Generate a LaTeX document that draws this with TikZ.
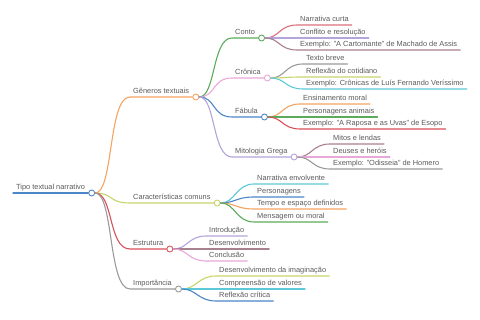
\documentclass[tikz,border=0pt]{standalone}
\usepackage{fontspec}
\setmainfont{Liberation Sans}
\usetikzlibrary{positioning}
\definecolor{mmtext}{HTML}{5A5A5A}
\definecolor{mmblue}{HTML}{4A86C8}
\definecolor{mmorange}{HTML}{F4A460}
\definecolor{mmlime}{HTML}{C8D46A}
\definecolor{mmred}{HTML}{D9505A}
\definecolor{mmgray}{HTML}{9A9A9A}
\definecolor{mmgreen}{HTML}{5AAC5A}
\definecolor{mmpink}{HTML}{E8A8D8}
\definecolor{mmpurple}{HTML}{B4A4DC}
\definecolor{mmmauve}{HTML}{A88090}
\definecolor{mmcyan}{HTML}{5CC8D8}
\definecolor{mmrose}{HTML}{D9707A}

\begin{document}
\begin{tikzpicture}[x=1pt, y=-1pt,
  item/.style={anchor=south west, inner xsep=3pt, inner ysep=0pt,
               text depth=2.8pt, text height=6pt, text=mmtext,
               font=\fontsize{7.4}{8.5}\selectfont},
  knot/.style={circle, draw=#1, fill=white, line width=0.9pt,
               minimum size=6pt, inner sep=0pt, anchor=west},
  edge/.style={draw=#1, line width=1.1pt, line cap=round}
]
  \useasboundingbox (0,0) rectangle (480,320);

  %% Root and main branches
  \node[item] (root) at (13,193)  {Tipo textual narrativo};
  \node[item] (gen)  at (130,97)  {Gêneros textuais};
  \node[item] (car)  at (130,203) {Características comuns};
  \node[item] (est)  at (130,249) {Estrutura};
  \node[item] (imp)  at (130,289) {Importância};

  %% Genres
  \node[item] (conto) at (232,38)  {Conto};
  \node[item] (cron)  at (232,78)  {Crônica};
  \node[item] (fab)   at (232,117) {Fábula};
  \node[item] (mit)   at (232,157) {Mitologia Grega};

  %% Leaves — Conto
  \node[item] (conto1) at (297,25) {Narrativa curta};
  \node[item] (conto2) at (297,38) {Conflito e resolução};
  \node[item] (conto3) at (297,50) {Exemplo: "A Cartomante" de Machado de Assis};
  %% Leaves — Crônica
  \node[item] (cron1) at (303,64) {Texto breve};
  \node[item] (cron2) at (303,77) {Reflexão do cotidiano};
  \node[item] (cron3) at (303,89) {Exemplo: Crônicas de Luís Fernando Veríssimo};
  %% Leaves — Fábula
  \node[item] (fab1) at (300,104) {Ensinamento moral};
  \node[item] (fab2) at (300,117) {Personagens animais};
  \node[item] (fab3) at (300,129) {Exemplo: "A Raposa e as Uvas" de Esopo};
  %% Leaves — Mitologia Grega
  \node[item] (mit1) at (330,144) {Mitos e lendas};
  \node[item] (mit2) at (330,157) {Deuses e heróis};
  \node[item] (mit3) at (330,169) {Exemplo: "Odisseia" de Homero};
  %% Leaves — Características comuns
  \node[item] (car1) at (254,184) {Narrativa envolvente};
  \node[item] (car2) at (254,197) {Personagens};
  \node[item] (car3) at (254,209) {Tempo e espaço definidos};
  \node[item] (car4) at (254,222) {Mensagem ou moral};
  %% Leaves — Estrutura
  \node[item] (est1) at (206,236) {Introdução};
  \node[item] (est2) at (206,249) {Desenvolvimento};
  \node[item] (est3) at (206,261) {Conclusão};
  %% Leaves — Importância
  \node[item] (imp1) at (216,276) {Desenvolvimento da imaginação};
  \node[item] (imp2) at (216,289) {Compreensão de valores};
  \node[item] (imp3) at (216,301) {Reflexão crítica};

  %% Knots at the end of each branch
  \node[knot=mmblue]   (root-k)  at (root.south east)  {};
  \node[knot=mmorange] (gen-k)   at (gen.south east)   {};
  \node[knot=mmlime]   (car-k)   at (car.south east)   {};
  \node[knot=mmred]    (est-k)   at (est.south east)   {};
  \node[knot=mmgray]   (imp-k)   at (imp.south east)   {};
  \node[knot=mmgreen]  (conto-k) at (conto.south east) {};
  \node[knot=mmpink]   (cron-k)  at (cron.south east)  {};
  \node[knot=mmblue]   (fab-k)   at (fab.south east)   {};
  \node[knot=mmpurple] (mit-k)   at (mit.south east)   {};

  %% Root underline
  \draw[edge=mmblue] (root.south west) -- (root.south east);

  %% Root -> main branches
  \draw[edge=mmorange] (root-k) .. controls +(22,0) and +(-22,0) .. (gen.south west) -- (gen.south east);
  \draw[edge=mmlime]   (root-k) .. controls +(22,0) and +(-22,0) .. (car.south west) -- (car.south east);
  \draw[edge=mmred]    (root-k) .. controls +(22,0) and +(-22,0) .. (est.south west) -- (est.south east);
  \draw[edge=mmgray]   (root-k) .. controls +(22,0) and +(-22,0) .. (imp.south west) -- (imp.south east);

  %% Gêneros -> genres
  \draw[edge=mmgreen]  (gen-k) .. controls +(20,0) and +(-20,0) .. (conto.south west) -- (conto.south east);
  \draw[edge=mmpink]   (gen-k) .. controls +(20,0) and +(-20,0) .. (cron.south west) -- (cron.south east);
  \draw[edge=mmblue]   (gen-k) .. controls +(20,0) and +(-20,0) .. (fab.south west) -- (fab.south east);
  \draw[edge=mmpurple] (gen-k) .. controls +(20,0) and +(-20,0) .. (mit.south west) -- (mit.south east);

  %% Conto leaves
  \draw[edge=mmrose]   (conto-k) .. controls +(18,0) and +(-18,0) .. (conto1.south west) -- (conto1.south east);
  \draw[edge=mmpurple] (conto-k) .. controls +(18,0) and +(-18,0) .. (conto2.south west) -- (conto2.south east);
  \draw[edge=mmmauve]  (conto-k) .. controls +(18,0) and +(-18,0) .. (conto3.south west) -- (conto3.south east);

  %% Crônica leaves
  \draw[edge=mmgray]   (cron-k) .. controls +(18,0) and +(-18,0) .. (cron1.south west) -- (cron1.south east);
  \draw[edge=mmlime]   (cron-k) .. controls +(18,0) and +(-18,0) .. (cron2.south west) -- (cron2.south east);
  \draw[edge=mmcyan]   (cron-k) .. controls +(18,0) and +(-18,0) .. (cron3.south west) -- (cron3.south east);

  %% Fábula leaves
  \draw[edge=mmorange] (fab-k) .. controls +(18,0) and +(-18,0) .. (fab1.south west) -- (fab1.south east);
  \draw[edge=mmgreen]  (fab-k) .. controls +(18,0) and +(-18,0) .. (fab2.south west) -- (fab2.south east);
  \draw[edge=mmred]    (fab-k) .. controls +(18,0) and +(-18,0) .. (fab3.south west) -- (fab3.south east);

  %% Mitologia Grega leaves
  \draw[edge=mmmauve]  (mit-k) .. controls +(18,0) and +(-18,0) .. (mit1.south west) -- (mit1.south east);
  \draw[edge=mmpink]   (mit-k) .. controls +(18,0) and +(-18,0) .. (mit2.south west) -- (mit2.south east);
  \draw[edge=mmgray]   (mit-k) .. controls +(18,0) and +(-18,0) .. (mit3.south west) -- (mit3.south east);

  %% Características comuns leaves
  \draw[edge=mmcyan]   (car-k) .. controls +(18,0) and +(-18,0) .. (car1.south west) -- (car1.south east);
  \draw[edge=mmblue]   (car-k) .. controls +(18,0) and +(-18,0) .. (car2.south west) -- (car2.south east);
  \draw[edge=mmorange] (car-k) .. controls +(18,0) and +(-18,0) .. (car3.south west) -- (car3.south east);
  \draw[edge=mmgreen]  (car-k) .. controls +(18,0) and +(-18,0) .. (car4.south west) -- (car4.south east);

  %% Estrutura leaves
  \draw[edge=mmpurple] (est-k) .. controls +(18,0) and +(-18,0) .. (est1.south west) -- (est1.south east);
  \draw[edge=mmmauve]  (est-k) .. controls +(18,0) and +(-18,0) .. (est2.south west) -- (est2.south east);
  \draw[edge=mmpink]   (est-k) .. controls +(18,0) and +(-18,0) .. (est3.south west) -- (est3.south east);

  %% Importância leaves
  \draw[edge=mmlime]   (imp-k) .. controls +(18,0) and +(-18,0) .. (imp1.south west) -- (imp1.south east);
  \draw[edge=mmcyan]   (imp-k) .. controls +(18,0) and +(-18,0) .. (imp2.south west) -- (imp2.south east);
  \draw[edge=mmblue]   (imp-k) .. controls +(18,0) and +(-18,0) .. (imp3.south west) -- (imp3.south east);
\end{tikzpicture}
\end{document}
